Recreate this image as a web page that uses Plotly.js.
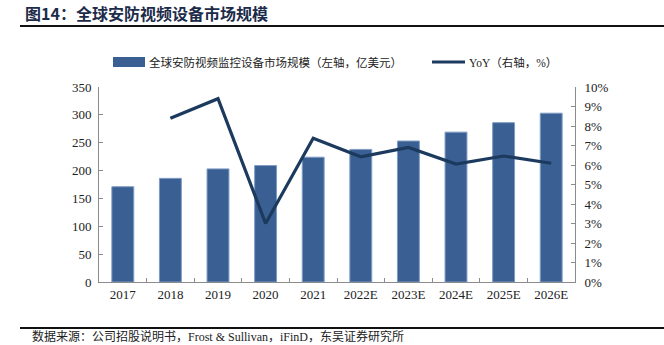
<!DOCTYPE html>
<html>
<head>
<meta charset="utf-8">
<script src="https://cdn.plot.ly/plotly-3.0.1.min.js"></script>
<style>html,body{margin:0;padding:0;background:#fff;}#chart{width:664px;height:345px;}</style>
</head>
<body>
<div id="chart"></div>
<script>
var categories = ["2017","2018","2019","2020","2021","2022E","2023E","2024E","2025E","2026E"];
var marketSize = [171, 186, 203, 209, 224, 238, 253, 269, 286, 303];
var yoyYears = ["2018","2019","2020","2021","2022E","2023E","2024E","2025E","2026E"];
var yoy = [0.084, 0.094, 0.030, 0.0737, 0.0642, 0.069, 0.0605, 0.0646, 0.0609];
var barName = "全球安防视频监控设备市场规模（左轴，亿美元）";
var lineName = "YoY（右轴，%）";
var titleText = "图14：全球安防视频设备市场规模";
var sourceText = "数据来源：公司招股说明书，Frost & Sullivan，iFinD，东吴证券研究所";

var barColor = "#3a5f93";
var lineColor = "#1b3a5e";
var serif = "Liberation Serif, Times New Roman, serif";
var cjk = "Liberation Serif, Noto Sans CJK SC, serif";

var traces = [
  {type:"bar", x:categories, y:marketSize, name:barName, width:0.46,
   marker:{color:barColor, line:{color:"#7f9cc4", width:1}}, showlegend:false, yaxis:"y"},
  {type:"scatter", mode:"lines", x:yoyYears, y:yoy, name:lineName,
   line:{color:lineColor, width:3.2}, showlegend:false, yaxis:"y2"}
];

var layout = {
  width:664, height:345,
  margin:{l:99, r:89, t:87, b:63},
  paper_bgcolor:"#fff", plot_bgcolor:"#fff",
  showlegend:false,
  xaxis:{type:"category", categoryorder:"array", categoryarray:categories,
    range:[-0.5,9.5], showline:true, linecolor:"#8c8c8c", linewidth:1,
    ticks:"inside", tickson:"boundaries", ticklen:4, tickcolor:"#8c8c8c",
    showgrid:false, zeroline:false, fixedrange:true,
    tickfont:{family:serif, size:13, color:"#222"}},
  yaxis:{range:[0,350], dtick:50, showline:true, linecolor:"#8c8c8c", linewidth:1,
    ticks:"inside", ticklen:4, tickcolor:"#8c8c8c", showgrid:false, zeroline:false,
    tickfont:{family:serif, size:13, color:"#222"}, ticklabelstandoff:4},
  yaxis2:{overlaying:"y", side:"right", range:[0,0.1], dtick:0.01, tickformat:".0%",
    showline:true, linecolor:"#8c8c8c", linewidth:1, ticks:"inside", ticklen:4,
    tickcolor:"#8c8c8c", showgrid:false, zeroline:false,
    tickfont:{family:serif, size:13, color:"#222"}, ticklabelstandoff:6},
  shapes:[
    {type:"line", xref:"paper", yref:"paper", x0:-79/476, x1:(664-99)/476,
     y0:1+(87-26)/195, y1:1+(87-26)/195, line:{color:"#111", width:1.8}},
    {type:"line", xref:"paper", yref:"paper", x0:-79/476, x1:(664-99)/476,
     y0:-(328-282)/195, y1:-(328-282)/195, line:{color:"#111", width:1.8}},
    {type:"rect", xref:"paper", yref:"paper", x0:(113-99)/476, x1:(145-99)/476,
     y0:1+(87-67)/195, y1:1+(87-57)/195, fillcolor:barColor, line:{color:barColor, width:0}},
    {type:"line", xref:"paper", yref:"paper", x0:(432-99)/476, x1:(465-99)/476,
     y0:1+(87-62)/195, y1:1+(87-62)/195, line:{color:lineColor, width:3}}
  ],
  annotations:[
    {xref:"paper", yref:"paper", x:-76/476, y:1+(87-13)/195, xanchor:"left", yanchor:"middle",
     text:"<b>"+titleText+"</b>", showarrow:false,
     font:{family:"Noto Sans CJK SC, sans-serif", size:16, color:"#1c2b4a"}},
    {xref:"paper", yref:"paper", x:(147-99)/476, y:1+(87-62)/195, xanchor:"left", yanchor:"middle",
     text:barName, showarrow:false, font:{family:cjk, size:11.5, color:"#222"}},
    {xref:"paper", yref:"paper", x:(467-99)/476, y:1+(87-62)/195, xanchor:"left", yanchor:"middle",
     text:lineName, showarrow:false, font:{family:cjk, size:11.5, color:"#222"}},
    {xref:"paper", yref:"paper", x:-68/476, y:-(336-282)/195, xanchor:"left", yanchor:"middle",
     text:sourceText, showarrow:false, borderpad:0, font:{family:cjk, size:12, color:"#222"}}
  ]
};

Plotly.newPlot("chart", traces, layout, {displayModeBar:false, staticPlot:true});
</script>
</body>
</html>
